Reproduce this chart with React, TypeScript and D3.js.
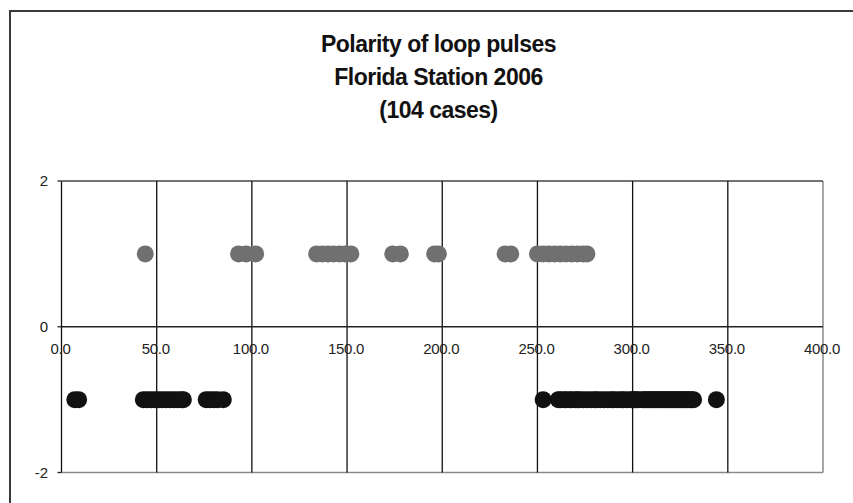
import React from "react";
import * as d3 from "d3";

const titleLines = ["Polarity of loop pulses", "Florida Station 2006", "(104 cases)"];
const positiveTimes = [44, 93, 97, 102, 134, 137, 140, 143, 146, 149, 152, 174, 178, 196, 198, 233, 236, 250, 253, 256, 259, 262, 265, 268, 271, 274, 276];
const negativeTimes = [7, 9, 43, 45, 47, 49, 51, 53, 55, 57, 59, 61, 63, 64, 76, 78, 80, 82, 85,
  253, 261, 262, 264, 265, 267, 268, 270, 271, 272, 274, 276, 278, 280, 281, 283, 285, 287, 289, 290, 292, 294, 295, 297, 299, 300,
  301, 302, 303, 305, 306, 307, 308, 309, 310, 311, 312, 313, 314, 315, 316, 317, 318, 319, 320, 321, 322, 323, 324, 325, 326, 327,
  328, 329, 330, 331, 332, 344];
const positiveValue = 1;
const negativeValue = -1;
const xTicks = [0, 50, 100, 150, 200, 250, 300, 350, 400];
const yTicks = [-2, 0, 2];

export default function App() {
  const W = 853, H = 503;
  const x = d3.scaleLinear().domain([0, 400]).range([61.5, 823]);
  const y = d3.scaleLinear().domain([-2, 2]).range([472.5, 181]);
  const font = "Arial, 'Liberation Sans', sans-serif";
  const r = 8.5;
  return (
    <svg width={W} height={H} style={{ position: "absolute", left: 0, top: 0, background: "#fff" }}>
      <rect x={10} y={11} width={900} height={600} fill="#fff" stroke="#3a3a3a" strokeWidth={2} />
      {titleLines.map((t, i) => (
        <text key={i} x={438.5} y={52 + i * 33} textAnchor="middle" fontFamily={font} fontWeight="bold" fontSize={23} fill="#111" letterSpacing={-0.5}>{t}</text>
      ))}
      {/* plot frame */}
      <line x1={x(400)} x2={x(400)} y1={y(2)} y2={y(-2)} stroke="#8a8a8a" strokeWidth={1.5} />
      <line x1={x(0)} x2={x(400)} y1={y(-2)} y2={y(-2)} stroke="#8a8a8a" strokeWidth={1.5} />
      <line x1={x(0)} x2={x(400)} y1={y(2)} y2={y(2)} stroke="#444" strokeWidth={1.5} />
      {xTicks.filter(v => v > 0 && v < 400).map(v => (
        <line key={v} x1={x(v)} x2={x(v)} y1={y(2)} y2={y(-2)} stroke="#111" strokeWidth={1.3} />
      ))}
      <line x1={x(0)} x2={x(0)} y1={y(2)} y2={y(-2)} stroke="#111" strokeWidth={1.3} />
      <line x1={x(0)} x2={x(400)} y1={y(0)} y2={y(0)} stroke="#222" strokeWidth={1.3} />
      {yTicks.map(v => (
        <g key={v}>
          <line x1={x(0) - 4} x2={x(0)} y1={y(v)} y2={y(v)} stroke="#222" strokeWidth={1.3} />
          <text x={48} y={y(v) + 5} textAnchor="end" fontFamily={font} fontSize={15} fill="#222">{v}</text>
        </g>
      ))}
      {xTicks.map(v => (
        <text key={v} x={x(v) - 1} y={354} textAnchor="middle" fontFamily={font} fontSize={15} fill="#222" letterSpacing={-0.3}>{v.toFixed(1)}</text>
      ))}
      {positiveTimes.map((t, i) => (
        <circle key={"p" + i} cx={x(t)} cy={y(positiveValue)} r={r} fill="#707070" />
      ))}
      {negativeTimes.map((t, i) => (
        <circle key={"n" + i} cx={x(t)} cy={y(negativeValue)} r={r} fill="#111" />
      ))}
    </svg>
  );
}
